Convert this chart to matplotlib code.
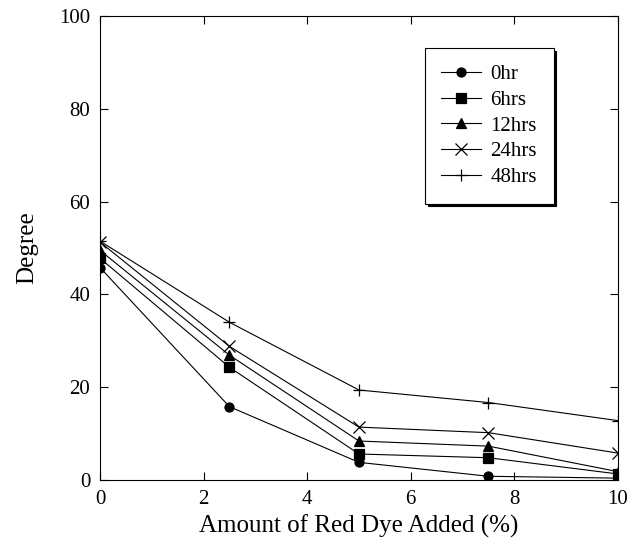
import matplotlib
matplotlib.use("Agg")
import matplotlib.pyplot as plt

# dye amount (%) and degree for each time
dye = [0, 2.5, 5, 7.5, 10]
deg_0hr = [45.8, 15.8, 3.8, 0.8, 0.4]
deg_6hrs = [47.8, 24.3, 5.6, 4.8, 1.3]
deg_12hrs = [49.5, 26.9, 8.4, 7.3, 1.8]
deg_24hrs = [51.3, 28.8, 11.4, 10.2, 5.8]
deg_48hrs = [51.5, 34.0, 19.4, 16.7, 12.8]

labels = ["0hr", "6hrs", "12hrs", "24hrs", "48hrs"]
markers = ["o", "s", "^", "x", "+"]

plt.rcParams['font.family'] = ['Liberation Serif', 'DejaVu Serif']

fig = plt.figure(figsize=(6.41, 5.47), dpi=100)
ax = fig.add_axes([0.156, 0.1225, 0.808, 0.848])

series = [deg_0hr, deg_6hrs, deg_12hrs, deg_24hrs, deg_48hrs]
for vals, lab, mk in zip(series, labels, markers):
    ms = 8 if mk in ("x", "+") else 6.5
    ax.plot(dye, vals, color="black", linewidth=0.8, marker=mk,
            markersize=ms, markeredgewidth=0.9, label=lab)

ax.set_xlim(0, 10)
ax.set_ylim(0, 100)
ax.set_xticks([0, 2, 4, 6, 8, 10])
ax.set_yticks([0, 20, 40, 60, 80, 100])
ax.tick_params(direction="in", top=True, right=True, labelsize=15,
               length=6, width=0.8)
ax.tick_params(axis="x", pad=7)
ax.tick_params(axis="y", pad=7)
ax.set_xlabel("Amount of Red Dye Added (%)", fontsize=18, labelpad=4)
ax.set_ylabel("Degree", fontsize=18, labelpad=15)
for s in ax.spines.values():
    s.set_linewidth(0.8)

leg = ax.legend(loc="upper left", bbox_to_anchor=(0.627, 0.931), borderaxespad=0,
                fancybox=False, shadow={"color": "black", "alpha": 1, "ox": 2, "oy": -2},
                edgecolor="black", fontsize=15,
                handlelength=1.9, labelspacing=0.29, handletextpad=0.45,
                borderpad=0.8)
leg.get_frame().set_linewidth(0.8)

fig.savefig("out.png", dpi=100)
